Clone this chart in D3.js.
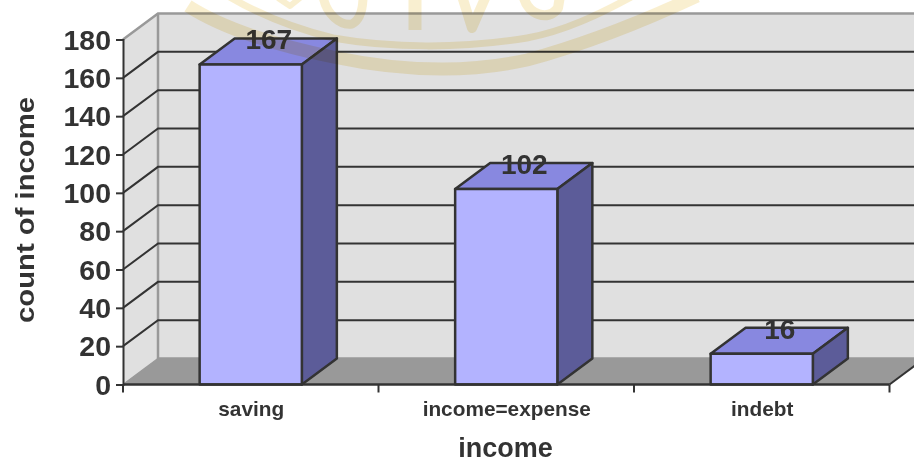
<!DOCTYPE html>
<html><head><meta charset="utf-8">
<style>html,body{margin:0;padding:0;background:#fff}svg{display:block}text{font-family:"Liberation Sans",Arial,sans-serif;font-weight:bold;fill:#333}</style>
<script src="https://cdn.jsdelivr.net/npm/d3@7"></script></head><body>
<script>
const categories = ["saving", "income=expense", "indebt"];
const counts = [167, 102, 16];
const yTicks = [0, 20, 40, 60, 80, 100, 120, 140, 160, 180];
const xTitle = "income";
const yTitle = "count of income";

const W = 914, H = 463, dx = 35, dy = -26;
const svg = d3.select("body").append("svg").attr("width", W).attr("height", H);
const x = d3.scaleBand().domain(categories).range([123, 889.5]).paddingInner(0.6).paddingOuter(0.3);
const xEdge = d3.scaleBand().domain(categories).range([123, 889.5]);
const y = d3.scaleLinear().domain([0, 180]).range([384.5, 39.5]);
const line = d3.line();
const stroke = "#333";
const poly = (pts, fill, st, sw) => svg.append("path").attr("d", line(pts) + "Z").attr("fill", fill)
  .attr("stroke", st || "none").attr("stroke-width", sw || 0).attr("stroke-linejoin", "round");
const open = (pts, st, sw) => svg.append("path").attr("d", line(pts)).attr("fill", "none").attr("stroke", st).attr("stroke-width", sw);

// side wall and back wall
poly([[123, y(0)], [123 + dx, y(0) + dy], [123 + dx, y(180) + dy], [123, y(180)]], "#e0e0e0");
poly([[123 + dx, y(0) + dy], [W + 2, y(0) + dy], [W + 2, y(180) + dy], [123 + dx, y(180) + dy]], "#e0e0e0");
// floor
poly([[123, y(0)], [889.5, y(0)], [889.5 + dx, y(0) + dy], [123 + dx, y(0) + dy]], "#999");
// wall frame
open([[123, y(180)], [123 + dx, y(180) + dy], [W + 2, y(180) + dy]], "#999", 2.5);
open([[123 + dx, y(180) + dy], [123 + dx, y(0) + dy], [W + 2, y(0) + dy]], "#999", 2.5);
open([[123, y(0)], [123 + dx, y(0) + dy]], "#999", 1.5);
// right edge of the floor
open([[889.5, y(0)], [889.5 + dx, y(0) + dy]], stroke, 2);

// gridlines
svg.append("g").selectAll("path").data(yTicks.filter(t => t > 0 && t < 180)).join("path")
  .attr("d", t => line([[123, y(t)], [123 + dx, y(t) + dy], [W + 2, y(t) + dy]]))
  .attr("fill", "none").attr("stroke", stroke).attr("stroke-width", 2);

// bars
categories.forEach((c, i) => {
  const l = x(c), r = l + x.bandwidth(), t = y(counts[i]), b = y(0);
  poly([[l, t], [r, t], [r + dx, t + dy], [l + dx, t + dy]], "#8888e0", stroke, 2.5);
  poly([[r, t], [r + dx, t + dy], [r + dx, b + dy], [r, b]], "#5c5c99", stroke, 2.5);
  poly([[l, t], [r, t], [r, b], [l, b]], "#b3b3ff", stroke, 2.5);
});

// axes
const yAxis = svg.append("g").attr("transform", "translate(123,0)")
  .call(d3.axisLeft(y).tickValues(yTicks).tickSize(7).tickPadding(5));
yAxis.select(".domain").attr("stroke", stroke).attr("stroke-width", 2);
yAxis.selectAll(".tick line").attr("stroke", stroke).attr("stroke-width", 2);
yAxis.selectAll("text").attr("font-size", 28.5).attr("font-family", "Liberation Sans").attr("fill", "#333").attr("dy", "0.34em");

const xAxis = svg.append("g").attr("transform", `translate(0,${y(0)})`);
xAxis.append("line").attr("x1", 123).attr("x2", 889.5).attr("stroke", stroke).attr("stroke-width", 2.5);
const edges = categories.map(c => xEdge(c)).concat([889.5]);
xAxis.selectAll("line.tk").data(edges).join("line").attr("class", "tk").attr("x1", d => d).attr("x2", d => d).attr("y1", 0).attr("y2", 8).attr("stroke", stroke).attr("stroke-width", 2);
svg.append("g").selectAll("text").data(categories).join("text")
  .attr("x", c => x(c) + x.bandwidth() / 2 + 0.5).attr("y", 416).attr("text-anchor", "middle").attr("font-size", 20.8).text(c => c);

// data labels
svg.append("g").selectAll("text").data(counts).join("text")
  .attr("x", (d, i) => x(categories[i]) + x.bandwidth() / 2 + 18).attr("y", d => y(d) - 15).attr("text-anchor", "middle").attr("font-size", 28).text(d => d);

// titles
svg.append("text").attr("x", 505.5).attr("y", 457).attr("text-anchor", "middle").attr("font-size", 27).text(xTitle);
svg.append("text").attr("transform", "translate(34,210) rotate(-90)").attr("text-anchor", "middle").attr("font-size", 26.5)
  .attr("textLength", 226).attr("lengthAdjust", "spacingAndGlyphs").text(yTitle);

// watermark (overlaid emblem fragment)
const wm = svg.append("g").attr("fill", "none").attr("stroke", "#eed27c").attr("stroke-opacity", 0.36)
  .attr("stroke-linejoin", "round").style("mix-blend-mode", "multiply");
wm.append("path").attr("d", "M188,6C225,30 283,47 333,57C390,69 460,75 527,60C593,42 650,18 697,-4").attr("stroke-width", 13);
wm.append("path").attr("d", "M228,-4C265,18 300,30 333,38C390,48 460,49 527,38C565,31 600,14 633,-4").attr("stroke-width", 7);
wm.append("path").attr("d", "M323,-4C326,14 340,26 352,24C360,20 363,8 363,-4").attr("stroke-width", 9);
wm.append("path").attr("d", "M278,-2L290,6L300,-2").attr("stroke-width", 6);
wm.append("path").attr("d", "M415,-4L415,30").attr("stroke-width", 13);
wm.append("path").attr("d", "M462,-4L472,28L486,-4").attr("stroke-width", 10);
wm.append("path").attr("d", "M524,-2C528,14 548,22 558,8L560,-4").attr("stroke-width", 10);
</script></body></html>
